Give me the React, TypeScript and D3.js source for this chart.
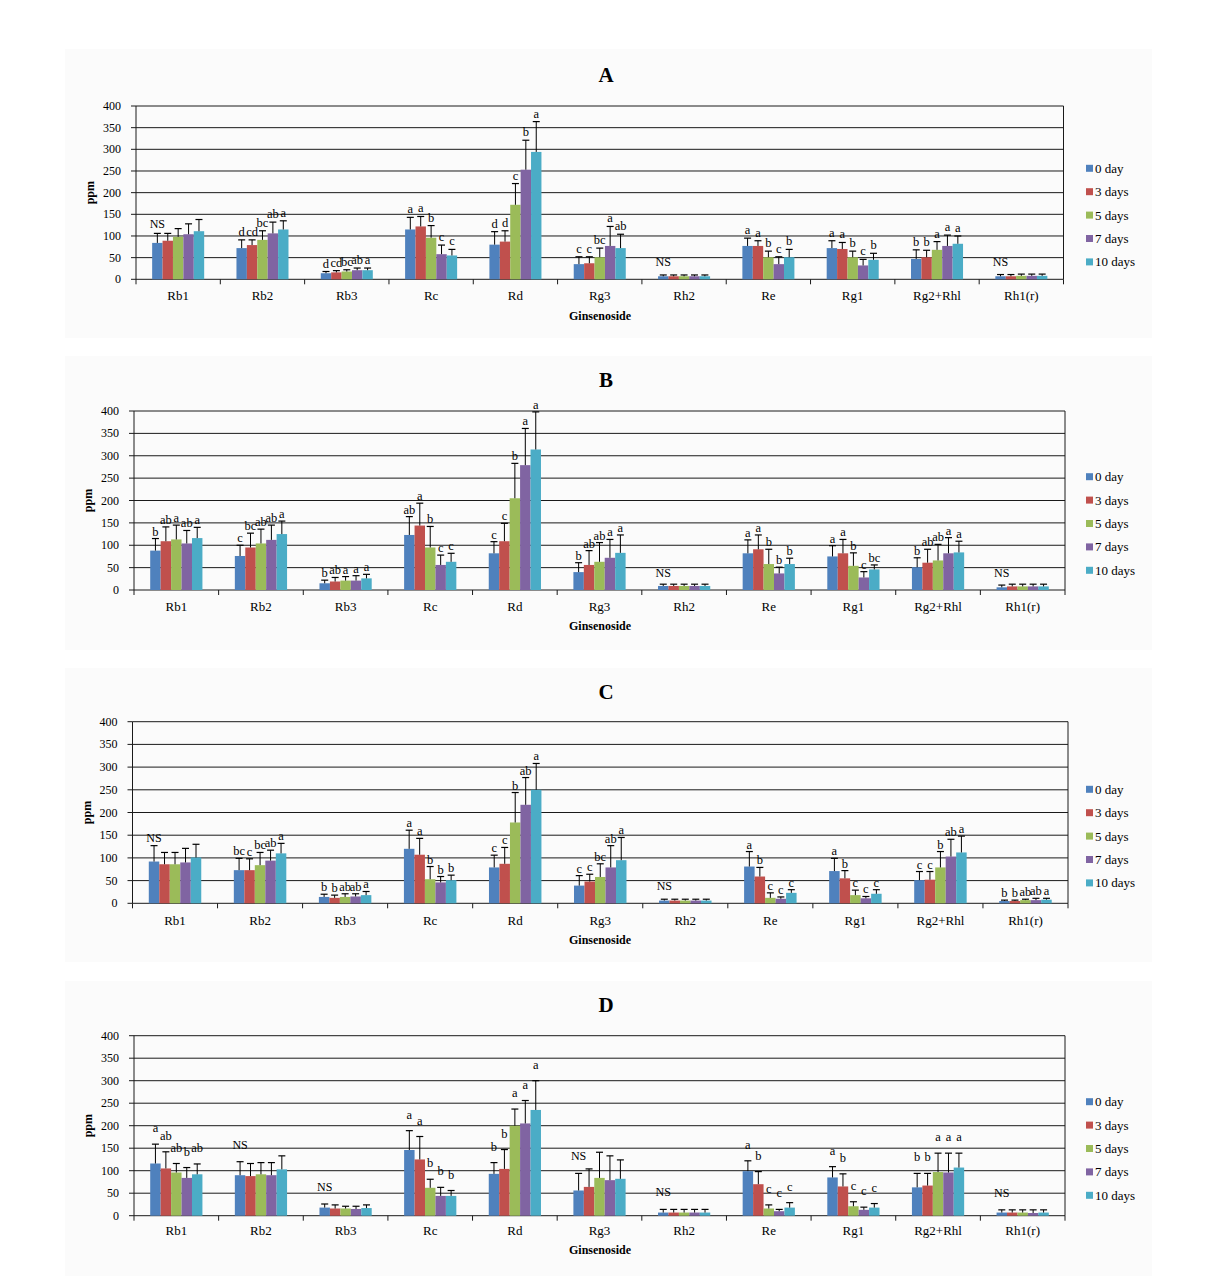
import React from "react";
import * as d3 from "d3";

const categories = ["Rb1", "Rb2", "Rb3", "Rc", "Rd", "Rg3", "Rh2", "Re", "Rg1", "Rg2+Rhl", "Rh1(r)"];
const seriesNames = ["0 day", "3 days", "5 days", "7 days", "10 days"];
const seriesColors = ["#4F81BD", "#C0504D", "#9BBB59", "#8064A2", "#4BACC6"];
const yTicks = [0, 50, 100, 150, 200, 250, 300, 350, 400];

// Panel A
const meansA = [
  [84, 89, 98, 104, 111], [72, 79, 91, 106, 115], [14, 16, 18, 21, 21], [115, 122, 96, 58, 55],
  [80, 87, 172, 253, 294], [35, 37, 51, 77, 72], [7, 7, 7, 7, 7], [77, 77, 51, 35, 51],
  [72, 70, 51, 32, 45], [47, 51, 68, 77, 82], [7, 7, 8, 8, 8],
];
const sdA = [
  [22, 17, 19, 24, 27], [19, 12, 21, 26, 20], [4, 4, 4, 5, 5], [28, 23, 28, 21, 14],
  [30, 25, 49, 68, 70], [17, 15, 21, 45, 32], [3, 3, 3, 3, 3], [18, 12, 14, 17, 18],
  [17, 15, 14, 14, 15], [21, 16, 19, 25, 18], [4, 4, 4, 4, 4],
];
const lettersA = [
  ["NS", "", "", "", ""], ["d", "cd", "bc", "ab", "a"], ["d", "cd", "bc", "ab", "a"], ["a", "a", "b", "c", "c"],
  ["d", "d", "c", "b", "a"], ["c", "c", "bc", "a", "ab"], ["NS", "", "", "", ""], ["a", "a", "b", "c", "b"],
  ["a", "a", "b", "c", "b"], ["b", "b", "a", "a", "a"], ["NS", "", "", "", ""],
];

// Panel B
const meansB = [
  [88, 109, 113, 104, 116], [76, 95, 104, 112, 125], [15, 19, 21, 21, 26], [123, 144, 95, 56, 63],
  [82, 109, 205, 279, 314], [40, 56, 63, 72, 83], [9, 9, 9, 9, 9], [82, 91, 58, 37, 58],
  [75, 82, 54, 28, 46], [51, 61, 66, 82, 84], [6, 8, 8, 8, 8],
];
const sdB = [
  [27, 32, 32, 29, 24], [24, 32, 32, 33, 29], [7, 9, 9, 11, 9], [41, 50, 47, 22, 19],
  [26, 40, 78, 82, 84], [21, 32, 43, 41, 40], [4, 4, 4, 4, 4], [30, 32, 33, 14, 13],
  [24, 31, 29, 13, 10], [21, 30, 36, 35, 25], [5, 5, 5, 5, 5],
];
const lettersB = [
  ["b", "ab", "a", "ab", "a"], ["c", "bc", "ab", "ab", "a"], ["b", "ab", "a", "a", "a"], ["ab", "a", "b", "c", "c"],
  ["c", "c", "b", "a", "a"], ["b", "ab", "ab", "a", "a"], ["NS", "", "", "", ""], ["a", "a", "b", "b", "b"],
  ["a", "a", "b", "c", "bc"], ["b", "ab", "ab", "a", "a"], ["NS", "", "", "", ""],
];

// Panel C
const meansC = [
  [92, 86, 86, 90, 101], [73, 73, 84, 94, 110], [14, 12, 14, 15, 18], [120, 107, 53, 46, 51],
  [79, 87, 178, 217, 250], [39, 48, 58, 79, 95], [6, 6, 6, 6, 6], [81, 59, 12, 10, 23],
  [71, 55, 18, 11, 21], [51, 52, 79, 103, 112], [5, 5, 7, 7, 8],
];
const sdC = [
  [35, 26, 26, 31, 29], [26, 25, 28, 23, 22], [6, 6, 7, 6, 8], [41, 36, 28, 13, 11],
  [27, 36, 66, 60, 58], [22, 16, 29, 48, 50], [3, 3, 3, 3, 3], [33, 20, 11, 4, 7],
  [28, 17, 11, 4, 9], [19, 18, 35, 38, 36], [2, 2, 2, 4, 3],
];
const lettersC = [
  ["NS", "", "", "", ""], ["bc", "c", "bc", "ab", "a"], ["b", "b", "ab", "ab", "a"], ["a", "a", "b", "b", "b"],
  ["c", "c", "b", "ab", "a"], ["c", "c", "bc", "ab", "a"], ["NS", "", "", "", ""], ["a", "b", "c", "c", "c"],
  ["a", "b", "c", "c", "c"], ["c", "c", "b", "ab", "a"], ["b", "b", "ab", "ab", "a"],
];

// Panel D
const meansD = [
  [116, 105, 96, 84, 92], [90, 88, 92, 90, 103], [18, 16, 16, 15, 17], [146, 125, 62, 44, 44],
  [93, 104, 200, 205, 235], [56, 64, 84, 79, 82], [7, 7, 7, 7, 7], [99, 70, 16, 10, 18],
  [85, 65, 21, 13, 18], [63, 67, 97, 96, 107], [7, 7, 7, 6, 7],
];
const sdD = [
  [43, 37, 20, 23, 23], [30, 28, 26, 28, 30], [8, 8, 5, 6, 7], [43, 51, 19, 19, 12],
  [25, 43, 37, 51, 65], [38, 40, 57, 54, 42], [7, 7, 7, 7, 7], [23, 28, 8, 4, 11],
  [24, 28, 10, 6, 9], [31, 27, 42, 43, 32], [6, 6, 6, 7, 6],
];
const lettersD = [
  ["a", "ab", "ab", "b", "ab"], ["NS", "", "", "", ""], ["NS", "", "", "", ""], ["a", "a", "b", "b", "b"],
  ["b", "b", "a", "a", "a"], ["NS", "", "", "", ""], ["NS", "", "", "", ""], ["a", "b", "c", "c", "c"],
  ["a", "b", "c", "c", "c"], ["b", "b", "a", "a", "a"], ["NS", "", "", "", ""],
];

const panels = [
  { title: "A", means: meansA, sd: sdA, letters: lettersA, titleY: 75, top: 106, bottom: 279.3, left: 136, right: 1063.5, catY: 295, xTitleY: 315.5, legendY: 168.3, bgTop: 49, bgBottom: 338, lift: 4 },
  { title: "B", means: meansB, sd: sdB, letters: lettersB, titleY: 380, top: 411, bottom: 590, left: 134, right: 1065, catY: 606.7, xTitleY: 625.7, legendY: 476.7, bgTop: 356, bgBottom: 650, lift: 3 },
  { title: "C", means: meansC, sd: sdC, letters: lettersC, titleY: 691.5, top: 721.7, bottom: 903.3, left: 132.5, right: 1068, catY: 920, xTitleY: 940, legendY: 789.3, bgTop: 668, bgBottom: 962, lift: 3 },
  { title: "D", means: meansD, sd: sdD, letters: lettersD, titleY: 1005, top: 1035.7, bottom: 1215.7, left: 134, right: 1065, catY: 1230, xTitleY: 1250, legendY: 1101.7, bgTop: 981, bgBottom: 1276, lift: 12 },
];

const FONT = "'Liberation Serif', 'Times New Roman', serif";

function Panel({ p }: { p: any }) {
  const x = d3.scaleBand<string>().domain(categories).range([p.left, p.right]).paddingInner(0.383).paddingOuter(0.1915);
  const xs = d3.scaleBand<string>().domain(seriesNames).range([0, x.bandwidth()]).padding(0);
  const y = d3.scaleLinear().domain([0, 400]).range([p.bottom, p.top]);
  const step = x.step();
  const capW = 3.5;
  const boundaries = d3.range(categories.length + 1).map((i) => p.left + i * step);

  return (
    <g>
      <rect x={65} y={p.bgTop} width={1087} height={p.bgBottom - p.bgTop} fill="#fbfbfb" />
      <text x={606} y={p.titleY} textAnchor="middle" dominantBaseline="central" fontFamily={FONT} fontWeight="bold" fontSize={21}>{p.title}</text>
      {/* gridlines */}
      {yTicks.map((t) => (
        <line key={"g" + t} x1={p.left} x2={p.right} y1={y(t)} y2={y(t)} stroke="#1a1a1a" strokeWidth={1} />
      ))}
      {/* y-axis ticks and labels */}
      {yTicks.map((t) => (
        <g key={"t" + t}>
          <line x1={p.left - 5} x2={p.left} y1={y(t)} y2={y(t)} stroke="#1a1a1a" />
          <text x={p.left - 15} y={y(t)} textAnchor="end" dominantBaseline="central" fontFamily={FONT} fontSize={12}>{t}</text>
        </g>
      ))}
      <line x1={p.left} x2={p.left} y1={p.top} y2={p.bottom} stroke="#1a1a1a" />
      <line x1={p.right} x2={p.right} y1={p.top} y2={p.bottom} stroke="#1a1a1a" />
      {boundaries.map((bx, i) => (
        <line key={"b" + i} x1={bx} x2={bx} y1={p.bottom} y2={p.bottom + 5} stroke="#1a1a1a" />
      ))}
      <text transform={`translate(${(p.left - 46)},${(p.top + p.bottom) / 2}) rotate(-90)`} textAnchor="middle" dominantBaseline="central" fontFamily={FONT} fontWeight="bold" fontSize={12}>ppm</text>
      {/* bars */}
      {categories.map((c, ci) => (
        <g key={c}>
          {seriesNames.map((s, si) => {
            const v = p.means[ci][si];
            const bx = (x(c) as number) + (xs(s) as number);
            const bw = xs.bandwidth();
            return (
              <rect key={s} x={bx} y={y(v)} width={bw} height={y(0) - y(v)} fill={seriesColors[si]} />
            );
          })}
          {seriesNames.map((s, si) => {
            const v = p.means[ci][si];
            const e = v + p.sd[ci][si];
            const cx = (x(c) as number) + (xs(s) as number) + xs.bandwidth() / 2;
            return (
              <g key={"e" + s}>
                <line x1={cx} x2={cx} y1={y(v)} y2={y(e)} stroke="#000" strokeWidth={1} />
                <line x1={cx - capW} x2={cx + capW} y1={y(e)} y2={y(e)} stroke="#000" strokeWidth={1.2} />
              </g>
            );
          })}
          {seriesNames.map((s, si) => {
            const lab = p.letters[ci][si];
            if (!lab) return null;
            const v = p.means[ci][si];
            const e = v + p.sd[ci][si];
            const cx = (x(c) as number) + (xs(s) as number) + xs.bandwidth() / 2;
            let ly = y(e) - p.lift;
            if (lab === "NS") ly = Math.min(y(e) - p.lift - 1, p.bottom - 13);
            return (
              <text key={"l" + s} x={cx} y={ly} textAnchor="middle" fontFamily={FONT} fontSize={lab === "NS" ? 12 : 12.5}>{lab}</text>
            );
          })}
          <text x={(x(c) as number) + x.bandwidth() / 2} y={p.catY} textAnchor="middle" dominantBaseline="central" fontFamily={FONT} fontSize={13}>{c}</text>
        </g>
      ))}
      <text x={600} y={p.xTitleY} textAnchor="middle" dominantBaseline="central" fontFamily={FONT} fontWeight="bold" fontSize={12}>Ginsenoside</text>
      {/* legend */}
      {seriesNames.map((s, si) => (
        <g key={"lg" + s}>
          <rect x={1086} y={p.legendY + si * 23.4 - 3.5} width={7} height={7} fill={seriesColors[si]} />
          <text x={1095} y={p.legendY + si * 23.4} dominantBaseline="central" fontFamily={FONT} fontSize={13}>{s}</text>
        </g>
      ))}
    </g>
  );
}

export default function App() {
  return (
    <svg width={1217} height={1284} style={{ position: "absolute", left: 0, top: 0, background: "#fff" }}>
      <rect x={0} y={0} width={1217} height={1284} fill="#fff" />
      {panels.map((p) => (
        <Panel key={p.title} p={p} />
      ))}
    </svg>
  );
}
